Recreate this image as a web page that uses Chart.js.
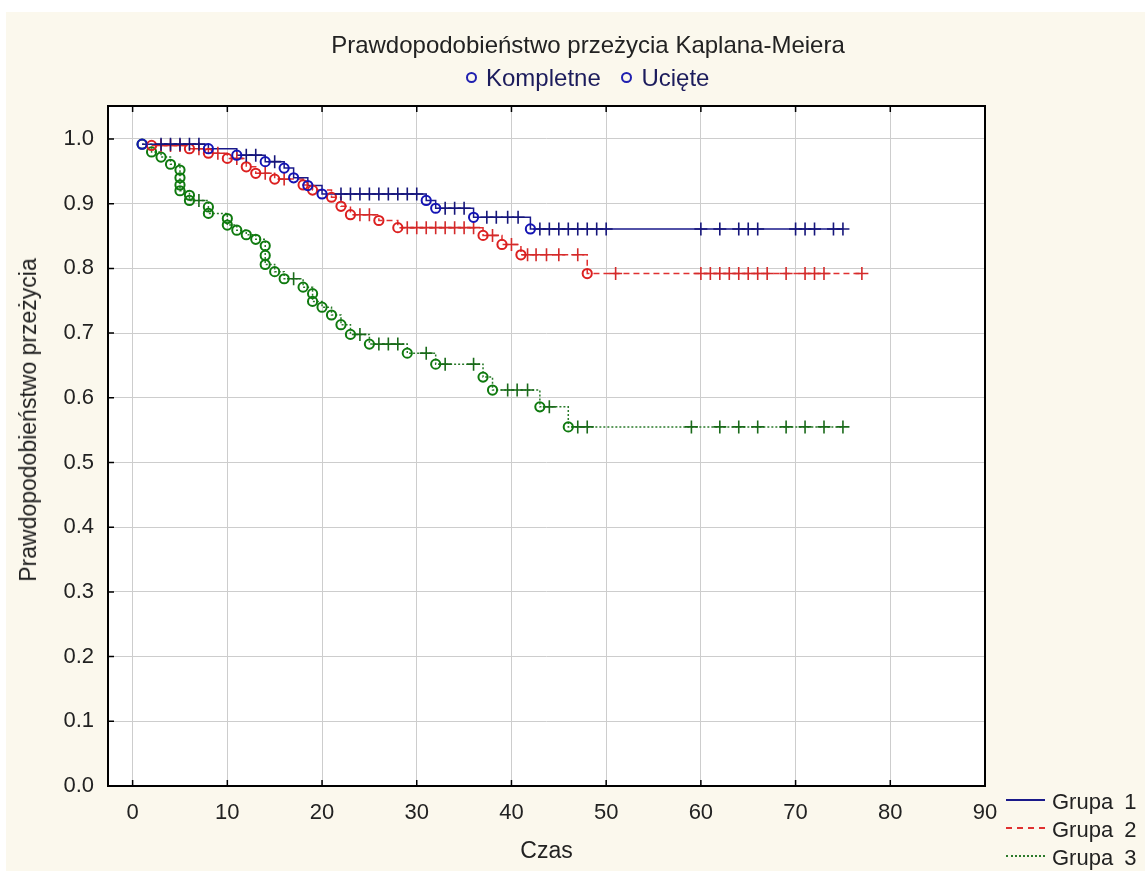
<!DOCTYPE html>
<html lang="pl">
<head>
    <meta charset="UTF-8">
    <title>Prawdopodobieństwo przeżycia Kaplana-Meiera</title>
    <style>
        body {
            margin: 0;
            background: #ffffff;
            font-family: "Liberation Sans", Arial, sans-serif;
        }

        .frame {
            position: absolute;
            left: 6px;
            top: 12px;
            width: 1139px;
            height: 859px;
            background: #fbf8ed;
        }

        #chart {
            position: absolute;
            left: 0;
            top: 0;
        }

        .title {
            position: absolute;
            left: 588px;
            top: 31px;
            transform: translateX(-50%);
            font-size: 24px;
            line-height: 28px;
            color: #222;
            white-space: nowrap;
        }

        .marks {
            position: absolute;
            left: 466px;
            top: 64px;
            font-size: 24px;
            line-height: 28px;
            color: #1c1c5c;
            white-space: nowrap;
        }

        .ring {
            display: inline-block;
            width: 7px;
            height: 7px;
            border: 2px solid #2020b0;
            border-radius: 50%;
            margin: 0 9px 3px 0;
        }

        .ytitle {
            position: absolute;
            left: 28px;
            top: 420px;
            transform: translate(-50%, -50%) rotate(-90deg);
            font-size: 23px;
            line-height: 26px;
            color: #222;
            white-space: nowrap;
        }

        .groups {
            position: absolute;
            left: 1006px;
            top: 788px;
            font-size: 22px;
            line-height: 28px;
            color: #222;
        }

        .groups div {
            white-space: nowrap;
            word-spacing: 5px;
        }

        .sample {
            display: inline-block;
            width: 39px;
            margin: 0 7px 6px 0;
            vertical-align: middle;
        }
    </style>
</head>
<body>
    <div class="frame"></div>
    <canvas id="chart" width="1145" height="871"></canvas>

    <div class="title">Prawdopodobieństwo przeżycia Kaplana-Meiera</div>
    <div class="marks"><span class="ring"></span>Kompletne <span style="display:inline-block;width:14px"></span><span class="ring"></span>Ucięte</div>
    <div class="ytitle">Prawdopodobieństwo przeżycia</div>

    <div class="groups">
        <div><span class="sample" style="border-top: 2px solid #1a1a8a"></span>Grupa 1</div>
        <div><span class="sample" style="border-top: 2px dashed #e03030"></span>Grupa 2</div>
        <div><span class="sample" style="border-top: 2px dotted #2a7a2a"></span>Grupa 3</div>
    </div>

    <script src="https://cdn.jsdelivr.net/npm/chart.js"></script>
    <script>
        // Grupa 1: zdarzenia (czas, przeżycie po zdarzeniu) i obserwacje ucięte
        const g1EventTime = [1, 8, 11, 14, 16, 17, 18.5, 20, 31, 32, 36, 42];
        const g1EventSurv = [0.992, 0.985, 0.975, 0.965, 0.955, 0.94, 0.928, 0.915, 0.905, 0.893, 0.879, 0.861];
        const g1CensTime = [3, 4, 5, 6, 7, 12, 13, 15, 22, 23, 24, 25, 26, 27, 28, 29, 30, 33, 34, 35,
            37.4, 38.4, 39.6, 40.7, 43, 44, 45, 46, 47, 48, 49, 50, 60, 62, 64, 65, 66, 70, 71, 72, 74, 75];

        // Grupa 2
        const g2EventTime = [2, 6, 8, 10, 12, 13, 15, 18, 19, 21, 22, 23, 26, 28, 37, 39, 41, 48];
        const g2EventSurv = [0.99, 0.985, 0.978, 0.97, 0.957, 0.947, 0.938, 0.929, 0.921, 0.91, 0.896,
            0.883, 0.874, 0.863, 0.851, 0.837, 0.821, 0.792];
        const g2CensTime = [3, 4, 5, 7, 9, 11, 14, 16, 24, 25, 29, 30, 31, 32, 33, 34, 35, 36, 38, 40,
            41.7, 42.6, 43.7, 45, 47, 51, 60, 61, 62, 63, 64, 65, 66, 67, 69, 71, 72, 73, 77];

        // Grupa 3
        const g3EventTime = [1, 2, 3, 4, 5, 5, 5, 5, 6, 6, 8, 8, 10, 10, 11, 12, 13, 14, 14, 14, 15, 16,
            18, 19, 19, 20, 21, 22, 23, 25, 29, 32, 37, 38, 43, 46];
        const g3EventSurv = [0.992, 0.98, 0.972, 0.961, 0.952, 0.94, 0.929, 0.92, 0.913, 0.905, 0.895,
            0.885, 0.877, 0.867, 0.859, 0.852, 0.845, 0.835, 0.82, 0.806, 0.795, 0.784, 0.771, 0.761,
            0.749, 0.74, 0.728, 0.713, 0.698, 0.683, 0.669, 0.652, 0.632, 0.612, 0.586, 0.555];
        const g3CensTime = [7, 17, 24, 26, 27, 28, 31, 33, 36, 39.6, 40.6, 41.7, 44, 47, 48, 59, 62, 64,
            66, 69, 71, 73, 75];

        // osie
        const xTickStep = 10;
        const yTickStep = 0.1;

        // wartość krzywej K-M w chwili t (funkcja schodkowa)
        function survAt(times, surv, t) {
            let s = 1;
            for (let i = 0; i < times.length; i++) {
                if (times[i] <= t) s = surv[i];
            }
            return s;
        }

        function eventPoints(times, surv) {
            return times.map((t, i) => ({ x: t, y: surv[i] }));
        }

        function censPoints(times, surv, cens) {
            return cens.map(t => ({ x: t, y: survAt(times, surv, t) }));
        }

        function curvePoints(times, surv, cens) {
            const pts = eventPoints(times, surv).concat(censPoints(times, surv, cens));
            pts.sort((a, b) => a.x - b.x || b.y - a.y);
            return pts;
        }

        const groups = [
            { times: g1EventTime, surv: g1EventSurv, cens: g1CensTime, line: '#1a1a8a', ring: '#1414b4', cross: '#15157a', dash: [] },
            { times: g2EventTime, surv: g2EventSurv, cens: g2CensTime, line: '#e03030', ring: '#dc2020', cross: '#d42a2a', dash: [6, 4] },
            { times: g3EventTime, surv: g3EventSurv, cens: g3CensTime, line: '#2a7a2a', ring: '#0f7a0f', cross: '#1a6a1a', dash: [2, 2] }
        ];

        const datasets = [];
        groups.forEach(g => {
            datasets.push({
                data: eventPoints(g.times, g.surv),
                pointStyle: 'circle',
                pointRadius: 4.6,
                pointBorderWidth: 2,
                pointBorderColor: g.ring,
                pointBackgroundColor: 'rgba(0,0,0,0)',
                showLine: false
            });
            datasets.push({
                data: censPoints(g.times, g.surv, g.cens),
                pointStyle: 'cross',
                pointRadius: 6.5,
                pointBorderWidth: 1.6,
                pointBorderColor: g.cross,
                showLine: false
            });
        });
        groups.forEach(g => {
            datasets.push({
                data: curvePoints(g.times, g.surv, g.cens),
                showLine: true,
                stepped: true,
                borderColor: g.line,
                borderWidth: 1.5,
                borderDash: g.dash,
                pointRadius: 0,
                fill: false
            });
        });

        // białe pole wykresu, ramka i wewnętrzne znaczniki
        const plotFrame = {
            id: 'plotFrame',
            beforeDraw(chart) {
                const a = chart.chartArea;
                const ctx = chart.ctx;
                ctx.save();
                ctx.fillStyle = '#ffffff';
                ctx.fillRect(a.left, a.top, a.right - a.left, a.bottom - a.top);
                ctx.restore();
            },
            afterDraw(chart) {
                const a = chart.chartArea;
                const ctx = chart.ctx;
                const xs = chart.scales.x;
                const ys = chart.scales.y;
                ctx.save();
                ctx.strokeStyle = '#000';
                ctx.lineWidth = 2;
                ctx.strokeRect(a.left, a.top, a.right - a.left, a.bottom - a.top);
                ctx.lineWidth = 1.5;
                ctx.beginPath();
                xs.ticks.forEach(t => {
                    const px = xs.getPixelForValue(t.value);
                    ctx.moveTo(px, a.top);
                    ctx.lineTo(px, a.top + 6);
                    ctx.moveTo(px, a.bottom);
                    ctx.lineTo(px, a.bottom - 6);
                });
                ys.ticks.forEach(t => {
                    const py = ys.getPixelForValue(t.value);
                    ctx.moveTo(a.left, py);
                    ctx.lineTo(a.left + 6, py);
                });
                ctx.stroke();
                ctx.restore();
            }
        };

        Chart.defaults.font.family = '"Liberation Sans", Arial, sans-serif';
        Chart.defaults.color = '#222';

        new Chart(document.getElementById('chart'), {
            type: 'scatter',
            data: { datasets: datasets },
            options: {
                responsive: false,
                animation: false,
                layout: { padding: { top: 106, right: 160, left: 0, bottom: 0 } },
                plugins: {
                    legend: { display: false },
                    tooltip: { enabled: false }
                },
                scales: {
                    x: {
                        type: 'linear',
                        min: -2.6,
                        max: 90,
                        afterFit(scale) { scale.height = 85; },
                        grid: { color: '#cdcdcd', lineWidth: 1, drawTicks: false },
                        border: { display: false },
                        ticks: {
                            stepSize: xTickStep,
                            includeBounds: false,
                            padding: 14,
                            font: { size: 22 },
                            callback: v => String(v)
                        },
                        title: {
                            display: true,
                            text: 'Czas',
                            font: { size: 23 },
                            padding: { top: 0, bottom: 6 }
                        }
                    },
                    y: {
                        type: 'linear',
                        min: 0,
                        max: 1.051,
                        afterFit(scale) { scale.width = 108; },
                        grid: { color: '#cdcdcd', lineWidth: 1, drawTicks: false },
                        border: { display: false },
                        ticks: {
                            stepSize: yTickStep,
                            includeBounds: false,
                            padding: 14,
                            font: { size: 22 },
                            callback: v => v.toFixed(1)
                        },
                        title: { display: false }
                    }
                }
            },
            plugins: [plotFrame]
        });
    </script>
</body>
</html>
